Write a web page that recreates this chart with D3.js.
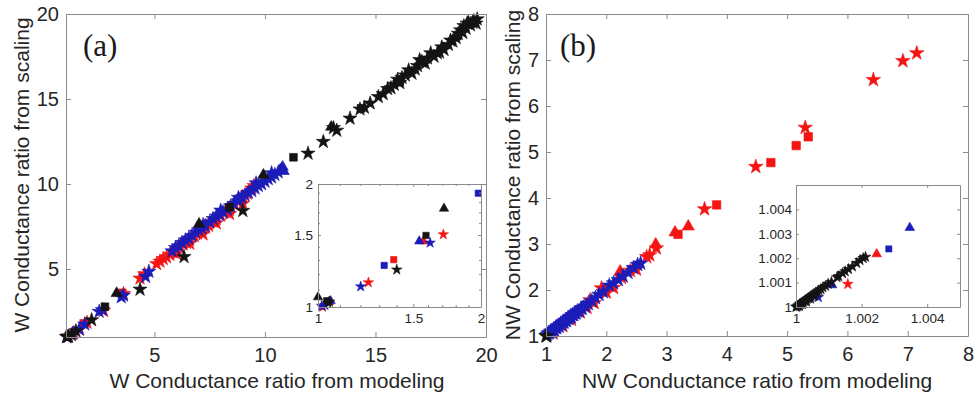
<!DOCTYPE html>
<html>
<head>
<meta charset="utf-8">
<script src="https://cdn.jsdelivr.net/npm/d3@7.9.0/dist/d3.min.js"></script>
<style>
  html, body { margin: 0; padding: 0; background: #fff; }
  svg { display: block; }
  .tick text { font-family: "Liberation Sans", Arial, sans-serif; fill: #262626; }
</style>
</head>
<body>
<div id="chart"></div>
<script>
// ---- panel (a): W conductance ratio ----
const aRedStar = [[1.12,1.05],[1.35,1.25],[1.62,1.45],[1.95,1.85],[2.7,2.55],[3.6,3.55],[4.35,4.45],[4.55,4.7],
  [5.1,5.3],[5.25,5.45],[5.4,5.6],[5.55,5.7],[5.7,5.85],[5.85,6.0],[6.0,6.1],[6.0,5.9],[6.15,6.3],[6.3,6.45],
  [6.45,6.55],[6.6,6.75],[6.6,6.5],[6.8,6.95],[6.95,7.1],[7.1,7.2],[7.2,7.05],[7.3,7.45],[7.45,7.55],[7.65,7.8],
  [7.8,7.95],[7.8,7.7],[8.0,8.15],[8.2,8.35],[8.4,8.5],[8.4,8.25],[8.6,8.8],[8.8,8.95],[9.0,9.25],[9.0,8.85],
  [9.2,9.45],[9.4,9.75],[9.5,9.9]];
const aRedSquare = [[1.8,1.8],[3.55,3.6]];
const aBlueStar = [[1.05,1.0],[1.3,1.2],[1.6,1.45],[1.85,1.75],[2.5,2.5],[2.65,2.6],[3.5,3.35],[3.6,3.45],[4.6,4.55],[4.75,4.85],
  [5.8,6.05],[5.95,6.25],[6.1,6.35],[6.25,6.55],[6.4,6.7],[6.55,6.8],[6.7,6.95],[6.85,7.15],[7.0,7.3],[7.15,7.4],
  [7.2,7.6],[7.3,7.55],[7.5,7.75],[7.65,7.95],[7.8,8.1],[7.95,8.2],[8.0,8.45],[8.1,8.35],[8.3,8.5],[8.45,8.7],
  [8.6,8.85],[8.8,9.0],[8.8,9.2],[8.95,9.2],[9.1,9.35],[9.25,9.5],[9.4,9.6],[9.55,9.75],[9.6,10.05],[9.7,9.9],
  [9.85,10.0],[10.0,10.15],[10.15,10.3],[10.3,10.4],[10.3,10.65],[10.45,10.55],[10.6,10.7]];
const aBlueTri = [[10.7,10.85],[10.8,11.0],[10.85,10.75]];
const aBlackStar = [[1.02,1.02],[1.1,1.03],[1.25,1.12],[1.45,1.35],[2.16,2.0],[4.35,3.8],[6.34,5.72],[9.0,8.43],
  [11.95,11.8],[12.64,12.49],[13.1,13.3],[13.25,13.15],[13.85,13.86],[14.3,14.4],[14.5,14.5],[14.76,14.75],
  [15.13,15.13],[15.35,15.3],[15.55,15.6],[15.7,15.65],[15.85,15.85],[16.0,16.15],[16.1,15.95],[16.2,16.25],
  [16.35,16.4],[16.5,16.7],[16.65,16.5],[16.8,16.75],[16.9,16.95],[17.0,17.3],[17.1,17.2],[17.25,17.1],
  [17.35,17.4],[17.5,17.7],[17.65,17.5],[17.8,17.7],[17.9,17.75],[18.0,18.05],[18.1,17.9],[18.3,18.2],
  [18.4,18.45],[18.5,18.4],[18.65,18.6],[18.75,18.85],[18.85,19.05],[18.95,18.9],[19.0,19.3],[19.1,19.15],
  [19.15,19.45],[19.3,19.35],[19.4,19.5],[19.45,19.6],[19.55,19.45],[19.6,19.7]];
const aBlackSquare = [[2.76,2.78],[8.39,8.63],[11.29,11.57],[14.35,14.45],[16.1,16.0],[18.7,18.7]];
const aBlackTri = [[3.29,3.57],[7.02,7.65],[9.93,10.53],[13.0,13.35],[19.2,19.55]];

// inset (a), log axes 1..2
const iaRedStar = [[1.02,1.0],[1.239,1.148],[1.704,1.505]];
const iaRedSquare = [[1.38,1.306]];
const iaRedTri = [[1.048,1.03],[1.565,1.449]];
const iaBlueStar = [[1.016,1.006],[1.03,1.01],[1.199,1.122],[1.611,1.436]];
const iaBlueSquare = [[1.325,1.264],[1.977,1.899]];
const iaBlueTri = [[1.055,1.035],[1.538,1.449]];
const iaBlackStar = [[1.043,1.023],[1.05,1.03],[1.398,1.234]];
const iaBlackSquare = [[1.038,1.036],[1.583,1.497]];
const iaBlackTri = [[1.0,1.057],[1.709,1.742]];

// ---- panel (b): NW conductance ratio ----
const bBlueStar = [[1.02,1.03],[1.04,1.06],[1.06,1.07],[1.08,1.1],[1.1,1.1],[1.12,1.14],[1.14,1.13],[1.16,1.18],
  [1.18,1.18],[1.2,1.22],[1.22,1.21],[1.24,1.26],[1.26,1.25],[1.28,1.3],[1.3,1.3],[1.32,1.34],[1.34,1.33],
  [1.36,1.38],[1.38,1.38],[1.4,1.42],[1.42,1.41],[1.44,1.46],[1.46,1.46],[1.48,1.5],[1.5,1.5],[1.52,1.54],
  [1.55,1.54],[1.58,1.6],[1.6,1.6],[1.65,1.64],[1.7,1.7],[1.76,1.76],[1.82,1.83],[1.88,1.9],[1.95,1.96],
  [2.05,2.1],[2.12,2.15],[2.2,2.22],[2.28,2.3],[2.36,2.38],[2.45,2.48],[2.52,2.55],[2.57,2.58]];
const bBlueTri = [[1.3,1.32],[1.62,1.64]];
const bRedStar = [[1.12,1.06],[1.28,1.22],[1.42,1.36],[1.57,1.52],[1.68,1.62],[1.73,1.78],[1.8,1.72],[1.92,2.04],
  [2.0,1.95],[2.12,2.05],[2.25,2.27],[2.4,2.42],[2.5,2.45],[2.67,2.72],[2.72,2.76],[2.83,2.91],[3.63,3.76],
  [4.48,4.68],[5.3,5.53],[6.43,6.57],[6.92,6.98],[7.15,7.15]];
const bRedSquare = [[1.97,2.02],[3.19,3.21],[3.83,3.85],[4.73,4.77],[5.15,5.14],[5.35,5.33]];
const bRedTri = [[2.23,2.4],[2.82,2.99],[3.14,3.25],[3.36,3.38]];
const bBlackStar = [[1.0,1.0],[1.01,1.0]];

// inset (b), 1..1.005
const ibBlackStar = [[1.00000,1.00000],[1.00003,1.00002],[1.00006,1.00005],[1.00009,1.00008],[1.00012,1.00012],
  [1.00015,1.00013],[1.00018,1.00017],[1.00022,1.00020],[1.00026,1.00025],[1.00030,1.00028],[1.00034,1.00033],
  [1.00038,1.00036],[1.00042,1.00040],[1.00046,1.00044],[1.00050,1.00049],[1.00055,1.00052],[1.00060,1.00058],
  [1.00065,1.00062],[1.00070,1.00068],[1.00076,1.00073],[1.00082,1.00080],[1.00090,1.00086],[1.00098,1.00095],
  [1.00108,1.00102],[1.00125,1.00122],[1.00130,1.00126],[1.00142,1.00138],[1.00150,1.00146],[1.00160,1.00155],
  [1.00172,1.00166],[1.00185,1.00180],[1.00195,1.00192],[1.00205,1.00200],[1.00212,1.00205],
  [1.00010,1.00004],[1.00020,1.00012],[1.00032,1.00022],[1.00044,1.00034],[1.00056,1.00046]];
const ibBlueStar = [[1.00068,1.00040]];
const ibBlueSquare = [[1.00283,1.00238]];
const ibBlueTri = [[1.00110,1.00090],[1.00347,1.00325]];
const ibRedStar = [[1.00158,1.00094]];
const ibRedTri = [[1.00246,1.00217]];

// tick values
const aTicks = [5, 10, 15, 20];
const iaTicks = [1, 1.5, 2];
const iaMinor = [1.1, 1.2, 1.3, 1.4, 1.6, 1.7, 1.8, 1.9];
const bTicks = [1, 2, 3, 4, 5, 6, 7, 8];
const ibXTicks = [1, 1.002, 1.004];
const ibYTicks = [1, 1.001, 1.002, 1.003, 1.004];

const RED = '#f51414', BLUE = '#1c1cb8', BLACK = '#141414';
const AXIS = '#8a8a8a';

const svg = d3.select('#chart').append('svg')
  .attr('width', 976).attr('height', 401);

const shapes = { star: d3.symbolStar, square: d3.symbolSquare, tri: d3.symbolTriangle };

// draw one series of markers
function drawPoints(g, x, y, pts, color, shape, size) {
  const sym = d3.symbol().type(shapes[shape]).size(size);
  g.selectAll(null).data(pts).enter().append('path')
    .attr('transform', d => `translate(${x(d[0])},${y(d[1])})`)
    .attr('d', sym)
    .attr('fill', color)
    .attr('stroke', color)
    .attr('stroke-width', 0.6);
}

// boxed MATLAB-style axes, ticks pointing in on all four sides
function drawBox(g, x, y, xt, yt, o) {
  const [x0, x1] = x.range(), [y0, y1] = y.range();
  g.append('g').attr('class', 'axis').attr('transform', `translate(0,${y0})`)
    .call(d3.axisBottom(x).tickValues(xt).tickSize(-o.tick).tickSizeOuter(0).tickPadding(o.padX).tickFormat(o.fmtX));
  g.append('g').attr('class', 'axis').attr('transform', `translate(0,${y1})`)
    .call(d3.axisTop(x).tickValues(xt).tickSize(-o.tick).tickSizeOuter(0).tickFormat(''));
  g.append('g').attr('class', 'axis').attr('transform', `translate(${x0},0)`)
    .call(d3.axisLeft(y).tickValues(yt).tickSize(-o.tick).tickSizeOuter(0).tickPadding(o.padY).tickFormat(o.fmtY));
  g.append('g').attr('class', 'axis').attr('transform', `translate(${x1},0)`)
    .call(d3.axisRight(y).tickValues(yt).tickSize(-o.tick).tickSizeOuter(0).tickFormat(''));
  g.selectAll('.tick text').style('font-size', o.font + 'px');
  if (o.minor) {
    const m = g.append('g').attr('stroke', AXIS);
    o.minor.forEach(v => {
      m.append('line').attr('x1', x(v)).attr('x2', x(v)).attr('y1', y0).attr('y2', y0 - 2);
      m.append('line').attr('x1', x(v)).attr('x2', x(v)).attr('y1', y1).attr('y2', y1 + 2);
      m.append('line').attr('y1', y(v)).attr('y2', y(v)).attr('x1', x0).attr('x2', x0 + 2);
      m.append('line').attr('y1', y(v)).attr('y2', y(v)).attr('x1', x1).attr('x2', x1 - 2);
    });
  }
  g.selectAll('.axis path, .axis line').attr('stroke', AXIS);
}

function label(text, x, y, rot) {
  svg.append('text')
    .attr('transform', `translate(${x},${y})` + (rot ? ' rotate(-90)' : ''))
    .attr('text-anchor', 'middle')
    .style('font-family', '"Liberation Sans", Arial, sans-serif')
    .style('font-size', '21px')
    .attr('fill', '#262626')
    .text(text);
}

function panelTag(text, x, y) {
  svg.append('text').attr('x', x).attr('y', y)
    .style('font-family', '"Liberation Serif", "Times New Roman", serif')
    .style('font-size', '31px')
    .attr('fill', '#1a1a1a')
    .text(text);
}

const plain = d => d3.format('~g')(d);

// ---------- panel (a) ----------
const ax = d3.scaleLinear().domain([1, 20]).range([66, 486]);
const ay = d3.scaleLinear().domain([1, 20]).range([337, 14]);
const ga = svg.append('g');
drawPoints(ga, ax, ay, aRedStar, RED, 'star', 62);
drawPoints(ga, ax, ay, aRedSquare, RED, 'square', 60);
drawPoints(ga, ax, ay, aBlueStar, BLUE, 'star', 62);
drawPoints(ga, ax, ay, aBlueTri, BLUE, 'tri', 55);
drawPoints(ga, ax, ay, aBlackStar, BLACK, 'star', 62);
drawPoints(ga, ax, ay, aBlackSquare, BLACK, 'square', 60);
drawPoints(ga, ax, ay, aBlackTri, BLACK, 'tri', 55);
drawBox(ga, ax, ay, aTicks, aTicks, { tick: 5, padX: 11, padY: 7, font: 20, fmtX: plain, fmtY: plain });

// inset (a)
const iax = d3.scaleLog().domain([1, 2]).range([318, 481]);
const iay = d3.scaleLog().domain([1, 2]).range([307, 184]);
const gia = svg.append('g');
gia.append('rect').attr('x', 318).attr('y', 184).attr('width', 163).attr('height', 123).attr('fill', '#fff');
drawPoints(gia, iax, iay, iaRedStar, RED, 'star', 34);
drawPoints(gia, iax, iay, iaRedSquare, RED, 'square', 40);
drawPoints(gia, iax, iay, iaRedTri, RED, 'tri', 38);
drawPoints(gia, iax, iay, iaBlueStar, BLUE, 'star', 34);
drawPoints(gia, iax, iay, iaBlueSquare, BLUE, 'square', 40);
drawPoints(gia, iax, iay, iaBlueTri, BLUE, 'tri', 38);
drawPoints(gia, iax, iay, iaBlackStar, BLACK, 'star', 34);
drawPoints(gia, iax, iay, iaBlackSquare, BLACK, 'square', 40);
drawPoints(gia, iax, iay, iaBlackTri, BLACK, 'tri', 38);
drawBox(gia, iax, iay, iaTicks, iaTicks, { tick: 3, padX: 6, padY: 5, font: 13.5, fmtX: plain, fmtY: plain, minor: iaMinor });

label('W Conductance ratio from modeling', 277, 388, false);
label('W Conductance ratio from scaling', 29, 175, true);
panelTag('(a)', 83, 56);

// ---------- panel (b) ----------
const bx = d3.scaleLinear().domain([1, 8]).range([546, 968]);
const by = d3.scaleLinear().domain([1, 8]).range([336, 14]);
const gb = svg.append('g');
drawPoints(gb, bx, by, bRedStar, RED, 'star', 66);
drawPoints(gb, bx, by, bRedSquare, RED, 'square', 72);
drawPoints(gb, bx, by, bRedTri, RED, 'tri', 64);
drawPoints(gb, bx, by, bBlueStar, BLUE, 'star', 66);
drawPoints(gb, bx, by, bBlueTri, BLUE, 'tri', 60);
drawPoints(gb, bx, by, bBlackStar, BLACK, 'star', 66);
drawBox(gb, bx, by, bTicks, bTicks, { tick: 5, padX: 11, padY: 7, font: 20, fmtX: plain, fmtY: plain });

// inset (b)
const ibx = d3.scaleLinear().domain([1, 1.005]).range([796, 960]);
const iby = d3.scaleLinear().domain([1, 1.005]).range([307, 185]);
const gib = svg.append('g');
gib.append('rect').attr('x', 796).attr('y', 185).attr('width', 164).attr('height', 122).attr('fill', '#fff');
drawPoints(gib, ibx, iby, ibRedStar, RED, 'star', 36);
drawPoints(gib, ibx, iby, ibRedTri, RED, 'tri', 40);
drawPoints(gib, ibx, iby, ibBlueStar, BLUE, 'star', 36);
drawPoints(gib, ibx, iby, ibBlueSquare, BLUE, 'square', 38);
drawPoints(gib, ibx, iby, ibBlueTri, BLUE, 'tri', 40);
drawPoints(gib, ibx, iby, ibBlackStar, BLACK, 'star', 36);
const fmt3 = d => d === 1 ? '1' : d3.format('.3f')(d);
drawBox(gib, ibx, iby, ibXTicks, ibYTicks, { tick: 3, padX: 6, padY: 4, font: 13.5, fmtX: fmt3, fmtY: fmt3 });

label('NW Conductance ratio from modeling', 757, 388, false);
label('NW Conductance ratio from scaling', 520, 175, true);
panelTag('(b)', 560, 56);
</script>
</body>
</html>
